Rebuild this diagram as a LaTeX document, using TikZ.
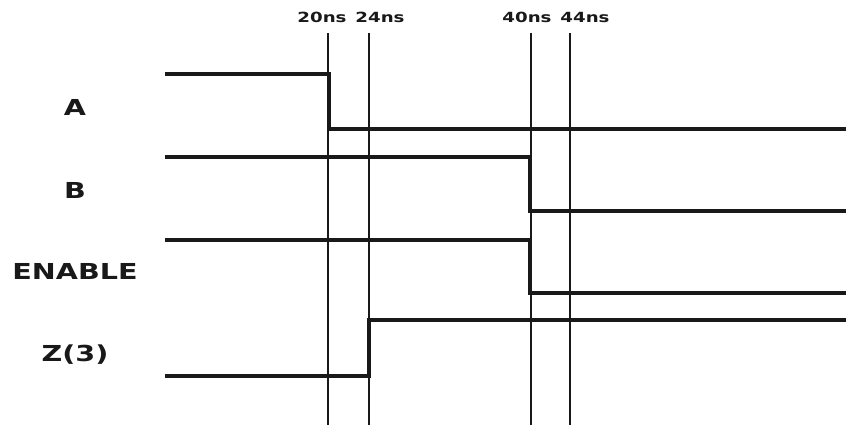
\documentclass[tikz,border=0pt]{standalone}
\usepackage{fontspec}
\newfontfamily\widefont[FakeStretch=1.3]{DejaVu Sans}
\usetikzlibrary{positioning}
\tikzstyle{signame} = [font=\widefont\bfseries\fontsize{22}{22}\selectfont,
text=black!90,
inner sep=0pt]
\tikzstyle{timelabel} = [font=\widefont\bfseries\fontsize{14}{14}\selectfont,
text=black!90,
inner sep=0pt]
\tikzstyle{wave} = [line width=4pt, draw=black!90]
\tikzstyle{marker} = [line width=2pt, draw=black!90]

\begin{document}
\begin{tikzpicture}[x=1pt, y=-1pt]
            \useasboundingbox (0,0) rectangle (846,425);
            % signal names
            \node (a) [signame] at (75,107) {A};
            \node (b) [signame] at (75,190) {B};
            \node (en) [signame] at (75,271) {ENABLE};
            \node (z) [signame] at (75,355) {Z(3)};

            % time markers
            \node (l20) [timelabel] at (322,17) {20ns};
            \node (l24) [timelabel] at (380,17) {24ns};
            \node (l40) [timelabel] at (527,17) {40ns};
            \node (l44) [timelabel] at (585,17) {44ns};
            \coordinate (t20) at (328,33);
            \coordinate (t24) at (369,33);
            \coordinate (t40) at (531,33);
            \coordinate (t44) at (570,33);
            \foreach \t in {t20,t24,t40,t44}
                \draw [marker] (\t) -- (\t |- 0,425);

            % waveforms
            \draw [wave] (165,74) -- (329,74) -- (329,129) -- (846,129);
            \draw [wave] (165,157) -- (530,157) -- (530,211) -- (846,211);
            \draw [wave] (165,240) -- (530,240) -- (530,293) -- (846,293);
            \draw [wave] (165,376) -- (369,376) -- (369,320) -- (846,320);
        \end{tikzpicture}
\end{document}
